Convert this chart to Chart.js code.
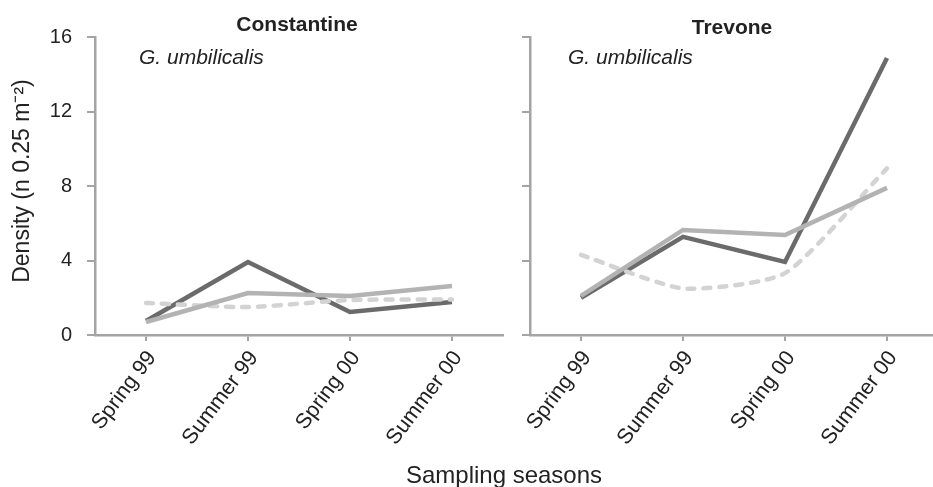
<!DOCTYPE html>
<html>
<head>
<meta charset="utf-8">
<script src="https://cdn.jsdelivr.net/npm/chart.js@4.4.1/dist/chart.umd.min.js"></script>
<style>
  body { margin: 0; width: 933px; height: 487px; overflow: hidden; background: #fff; position: relative; font-family: "Liberation Sans", Arial, sans-serif; }
  #left { position: absolute; left: 0; top: 0; }
  #right { position: absolute; left: 510px; top: 0; }
  #xtitle { position: absolute; left: 0; width: 1008px; top: 461px; text-align: center; font-size: 24px; color: #222; }
</style>
</head>
<body>
<canvas id="left" width="510" height="487"></canvas>
<canvas id="right" width="435" height="487"></canvas>
<div id="xtitle">Sampling seasons</div>
<script>
// seasons on the x axis
let seasons = ["Spring 99", "Summer 99", "Spring 00", "Summer 00"];
let yTicks = [0, 4, 8, 12, 16];

// Constantine
let constDark = [0.75, 3.92, 1.24, 1.77];
let constLight = [0.7, 2.25, 2.1, 2.63];
let constDashed = [1.72, 1.5, 1.88, 1.9];

// Trevone
let trevDark = [2.0, 5.27, 3.92, 14.87];
let trevLight = [2.1, 5.64, 5.37, 7.9];
let trevDashed = [4.3, 2.5, 3.32, 8.95];

const axisGrey = "#a4a4a4";
const textCol = "#222";
const FONT = "'Liberation Sans', Arial, sans-serif";

// panel title, species name and (left only) the y axis title
const panelText = {
  id: "panelText",
  afterDraw(chart, args, opts) {
    let ctx = chart.ctx;
    let area = chart.chartArea;
    ctx.save();
    ctx.fillStyle = textCol;
    ctx.textBaseline = "middle";
    ctx.textAlign = "center";
    ctx.font = "bold 21px " + FONT;
    ctx.fillText(opts.title, (area.left + area.right) / 2 + opts.titleDx, opts.titleY);
    ctx.textAlign = "left";
    ctx.font = "italic 21px " + FONT;
    ctx.fillText("G. umbilicalis", area.left + opts.subDx, 58);
    if (opts.yTitle) {
      ctx.translate(23, 181);
      ctx.rotate(-Math.PI / 2);
      ctx.textAlign = "center";
      ctx.font = "23px " + FONT;
      ctx.fillText(opts.yTitle, 0, 0);
    }
    ctx.restore();
  }
};

function makeChart(id, dark, light, dashed, isLeft, title, titleDx, titleY, subDx) {
  let ctx = document.getElementById(id).getContext("2d");
  return new Chart(ctx, {
    type: "line",
    data: {
      labels: seasons,
      datasets: [
        { data: light, borderColor: "#b3b3b3", borderWidth: 4.5, tension: 0, pointRadius: 0 },
        { data: dashed, borderColor: "#d3d3d3", borderWidth: 4.5, tension: 0.2, pointRadius: 0,
          borderDash: [7, 9], borderCapStyle: "round" },
        { data: dark, borderColor: "#6b6b6b", borderWidth: 4.5, tension: 0, pointRadius: 0 }
      ]
    },
    options: {
      responsive: false,
      animation: false,
      layout: { padding: { top: 37, right: 7, left: 0, bottom: 0 } },
      plugins: {
        legend: { display: false },
        tooltip: { enabled: false },
        panelText: { title: title, titleDx: titleDx, titleY: titleY, subDx: subDx,
                     yTitle: isLeft ? "Density (n 0.25 m\u207B\u00B2)" : null }
      },
      scales: {
        x: {
          offset: true,
          grid: { drawOnChartArea: false, drawTicks: true, tickLength: 6, color: axisGrey, lineWidth: 2 },
          border: { display: true, color: axisGrey, width: 2.5 },
          ticks: { maxRotation: 53, minRotation: 53, padding: 5, labelOffset: 6, color: textCol,
                   font: { size: 21.5, family: FONT } },
          afterFit(scale) { scale.height = 152; }
        },
        y: {
          min: 0,
          max: 16,
          afterBuildTicks(scale) { scale.ticks = yTicks.map(v => ({ value: v })); },
          grid: { drawOnChartArea: false, drawTicks: true, tickLength: 8, color: axisGrey, lineWidth: 2 },
          border: { display: true, color: axisGrey, width: 2.5 },
          ticks: { display: isLeft, padding: 15, color: textCol, font: { size: 20, family: FONT } },
          afterFit(scale) { scale.width = isLeft ? 95 : 20; }
        }
      }
    },
    plugins: [panelText]
  });
}

makeChart("left", constDark, constLight, constDashed, true, "Constantine", -2, 25, 44);
makeChart("right", trevDark, trevLight, trevDashed, false, "Trevone", -2, 28, 38);
</script>
</body>
</html>
